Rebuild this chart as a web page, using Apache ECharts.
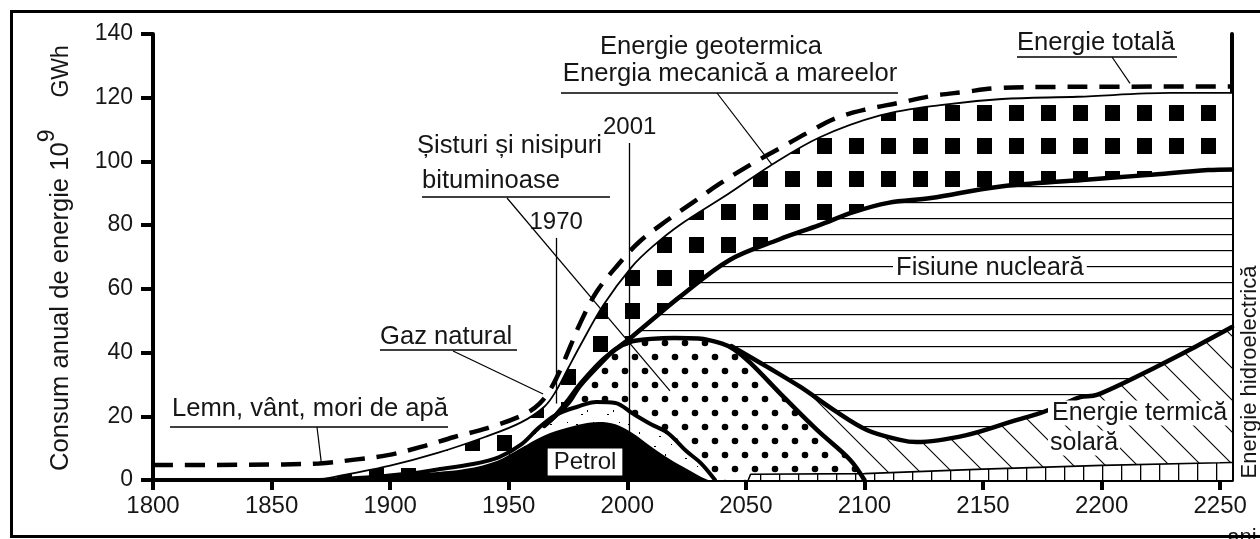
<!DOCTYPE html>
<html>
<head>
<meta charset="utf-8">
<script src="https://cdn.jsdelivr.net/npm/echarts@6/dist/echarts.min.js"></script>
<style>
  html, body { margin: 0; padding: 0; background: #fff; }
  #chart { width: 1260px; height: 539px; }
</style>
</head>
<body>
<div id="chart"></div>
<script>
// ---- axis ticks ----
const yearTicks = [1800, 1850, 1900, 1950, 2000, 2050, 2100, 2150, 2200, 2250];
const valueTicks = [0, 20, 40, 60, 80, 100, 120, 140];

// ---- curves: [year, 10^9 GWh] ----
const totalEnergy = [[1800,4.7],[1840,4.8],[1870,5.2],[1885,6.4],[1899,7.8],[1913,10.4],[1927,13.5],[1941,16.3],[1956,20.4],[1963,24],[1968,29],[1972,35],[1976,42],[1980,49],[1987,59],[1996,67.5],[2005,74.7],[2017,81.6],[2028,87.3],[2039,93],[2052,99],[2064,104],[2076,109],[2088,113.6],[2101,116.4],[2114,118.3],[2128,120.5],[2142,121.8],[2156,123],[2180,123.4],[2255,123.5]];
const geoTidalTop = [[1870,0],[1880,1.5],[1900,4.5],[1920,8.5],[1940,13.5],[1955,18],[1965,23],[1970,28],[1975,35],[1980,42],[1990,55],[2002,67],[2011,73.5],[2022,80],[2043,90],[2060,98.5],[2081,107.5],[2107,114.5],[2132,117.7],[2158,119.6],[2190,120.3],[2229,121.5],[2255,121.5]];
const nuclearTop = [[1965,17],[1970,20.5],[1975,25],[1980,30],[1990,38],[2002,45],[2010,50],[2022,57.4],[2043,69],[2064,75.5],[2081,80],[2095,84],[2110,87],[2128,88.5],[2156,92],[2192,94.2],[2219,95.7],[2245,97.3],[2255,97.5]];
const solarTop = [[2044,42],[2059,35.5],[2073,29.2],[2087,22],[2101,15.7],[2115,12.6],[2122,11.9],[2143,14.1],[2164,18.8],[2174,21],[2183,23.5],[2191,26],[2198,26.7],[2223,35.5],[2240,42],[2255,48]];
const shaleTop = [[1965,17],[1975,24],[1980,29.5],[1990,37.5],[1995,41],[2002,43.5],[2010,44.3],[2020,44.6],[2030,44.4],[2040,42.8],[2045,41],[2052,36.7],[2066,26],[2080,15.7],[2094,6.3],[2100,0]];
const gasTop = [[1870,0],[1890,0.8],[1910,2.2],[1920,3.3],[1935,5],[1946,7.2],[1955,11],[1963,16.6],[1970,20.5],[1979,23],[1987,24.5],[1995,24.2],[2002,21],[2010,17.5],[2017,14.8],[2025,9],[2031,5.3],[2037,0]];
const petrolTop = [[1860,0],[1900,1.5],[1920,2.5],[1932,3.5],[1945,6],[1955,10],[1965,14],[1975,16.5],[1988,18.2],[1995,17.5],[2002,14.8],[2010,10.5],[2017,7],[2025,3.5],[2031,1],[2034,0]];
const hydroTop = [[2051,0],[2052,1.8],[2100,2],[2150,3.4],[2200,4.6],[2250,5.4],[2255,5.5]];
const markYears = [1970, 2001];

const FONT = '"Liberation Sans", Arial, sans-serif';
const INK = '#161616';
const NOTE = 25.6;   // annotation font size

// ---- fill patterns ----
function tile(w, h, draw) {
  const c = document.createElement('canvas');
  c.width = w; c.height = h;
  const g = c.getContext('2d');
  g.fillStyle = '#fff'; g.fillRect(0, 0, w, h);
  g.fillStyle = '#000'; g.strokeStyle = '#000';
  draw(g);
  return { image: c, repeat: 'repeat' };
}
const squaresFill = tile(32, 33, g => { g.fillRect(17, 6, 15, 16); });
const linesFill = tile(16, 16, g => { g.fillRect(0, 10, 16, 1.2); });
const hatchFill = tile(32, 32, g => {
  g.lineWidth = 1.1;
  for (const k of [-32, 0, 32]) { g.beginPath(); g.moveTo(k - 1, -1); g.lineTo(k + 33, 33); g.stroke(); }
});
const dotsFill = tile(20, 28, g => {
  for (const [x, y] of [[5, 7], [15, 21]]) { g.beginPath(); g.arc(x, y, 3.3, 0, Math.PI * 2); g.fill(); }
});
const specksFill = tile(26, 22, g => {
  g.fillRect(4, 6, 2, 1); g.fillRect(15, 14, 1, 2); g.fillRect(21, 4, 1, 1); g.fillRect(9, 18, 2, 1);
});
const boxesFill = tile(19, 40, g => { g.fillRect(0, 0, 1.3, 40); });

const chart = echarts.init(document.getElementById('chart'), null, { renderer: 'canvas' });

function areaSeries(name, data, fill, extra) {
  return Object.assign({
    name, type: 'line', data, showSymbol: false, smooth: 0.35, silent: true, z: 2,
    lineStyle: { width: 0, opacity: 0 },
    areaStyle: { color: fill, opacity: 1 }
  }, extra || {});
}
function lineSeries(name, data, width, extra) {
  return Object.assign({
    name, type: 'line', data, showSymbol: false, smooth: 0.35, silent: true, z: 3,
    lineStyle: { color: '#000', width: width, cap: 'round', join: 'round' }
  }, extra || {});
}

const option = {
  animation: false,
  backgroundColor: '#fff',
  grid: { left: 153, right: 28, top: 34, bottom: 59, outerBoundsMode: 'none' },
  xAxis: {
    type: 'value', min: 1800, max: 2255,
    axisLine: { show: true, onZero: false, lineStyle: { color: '#000', width: 4 } },
    axisTick: { show: true, length: 10, customValues: yearTicks, lineStyle: { color: '#000', width: 4 } },
    axisLabel: { customValues: yearTicks, formatter: v => String(v), fontSize: 24, fontFamily: FONT, color: INK, margin: 14 },
    splitLine: { show: false }
  },
  yAxis: [{
    type: 'value', min: 0, max: 140, interval: 20, position: 'left',
    axisLine: { show: true, onZero: false, lineStyle: { color: '#000', width: 4 } },
    axisTick: { show: true, length: 12, customValues: valueTicks, lineStyle: { color: '#000', width: 4 } },
    axisLabel: { customValues: valueTicks, formatter: v => String(v), fontSize: 23, fontFamily: FONT, color: INK, margin: 20 },
    splitLine: { show: false }
  }, {
    type: 'value', min: 0, max: 140, position: 'right',
    axisLine: { show: true, onZero: false, lineStyle: { color: '#000', width: 4 } },
    axisTick: { show: false }, axisLabel: { show: false }, splitLine: { show: false }
  }],
  series: [
    areaSeries('Cărbune', geoTidalTop, squaresFill),
    areaSeries('Fisiune nucleară', nuclearTop, linesFill),
    areaSeries('Energie termică solară', solarTop, hatchFill),
    areaSeries('Șisturi și nisipuri bituminoase', shaleTop, dotsFill),
    areaSeries('Gaz natural', gasTop, specksFill),
    areaSeries('Petrol', petrolTop, '#000'),
    areaSeries('Energie hidroelectrică', hydroTop, boxesFill, { smooth: false, z: 3, lineStyle: { color: '#000', width: 1.6 } }),
    lineSeries('Energie geotermica', geoTidalTop, 1.8),
    lineSeries('Fisiune nucleară (limită)', nuclearTop, 4.5),
    lineSeries('Energie termică solară (limită)', solarTop, 4.5),
    lineSeries('Șisturi (limită)', shaleTop, 4.5),
    lineSeries('Gaz natural (limită)', gasTop, 4),
    lineSeries('Energie totală', totalEnergy, 4.5, {
      lineStyle: { color: '#000', width: 4.5, type: [20, 12] },
      markLine: {
        silent: true, symbol: 'none', animation: false,
        lineStyle: { color: '#000', width: 1.3, type: 'solid' },
        label: { show: true, position: 'end', formatter: '{b}', fontSize: 24, fontFamily: FONT, color: INK, distance: 4 },
        data: [
          [{ coord: [markYears[0], 24], name: String(markYears[0]) }, { coord: [markYears[0], 76] }],
          [{ coord: [markYears[1], 0], name: String(markYears[1]) }, { coord: [markYears[1], 105.8] }]
        ]
      }
    })
  ]
};
chart.setOption(option);

// ---- annotations ----
const P = (x, y) => chart.convertToPixel({ xAxisIndex: 0, yAxisIndex: 0 }, [x, y]);
function txt(text, x, y, align, vAlign, opts) {
  return Object.assign({
    type: 'text', x, y, z: 20, silent: true,
    style: Object.assign({ text, fontSize: NOTE, fontFamily: FONT, fill: INK, align: align, verticalAlign: vAlign }, (opts && opts.style) || {})
  }, opts && opts.el || {});
}
function seg(x1, y1, x2, y2, w) {
  return { type: 'line', z: 19, silent: true, shape: { x1, y1, x2, y2 }, style: { stroke: '#000', lineWidth: w || 1.2 } };
}
function leader(x1, y1, px, py) {
  const end = P(px, py);
  return seg(x1, y1, end[0], end[1], 1.2);
}

const graphics = [
  // Geothermal / tidal
  txt('Energie geotermica', 711, 47, 'center', 'middle'),
  txt('Energia mecanică a mareelor', 730, 74, 'center', 'middle'),
  seg(561, 93, 898, 93, 1.5),
  leader(717, 93, 2061, 99),
  // Total
  txt('Energie totală', 1096, 43, 'center', 'middle'),
  seg(1017, 57, 1177, 57, 1.5),
  leader(1112, 57, 2212, 124.5),
  // Shale
  txt('Șisturi și nisipuri', 417, 146, 'left', 'middle'),
  txt('bituminoase', 422, 181, 'left', 'middle'),
  seg(422, 197, 610, 197, 1.5),
  leader(507, 198, 2018, 28),
  // Natural gas
  txt('Gaz natural', 380, 337, 'left', 'middle'),
  seg(380, 350, 517, 350, 1.5),
  leader(453, 351, 1964.5, 27),
  // Wood, wind, water mills
  txt('Lemn, vânt, mori de apă', 172, 409, 'left', 'middle'),
  seg(170, 427, 448, 427, 1.5),
  leader(317, 427, 1871, 5.3),
  // Region labels
  txt('Fisiune nucleară', 893, 281, 'left', 'bottom', { style: { backgroundColor: '#fff', padding: [1, 3, 0, 3] } }),
  txt('Petrol', 585, 462, 'center', 'middle', { style: { fontSize: 24, backgroundColor: '#fff', padding: [2, 6, 1, 6] } }),
  txt('Energie termică', 1048, 413, 'left', 'middle', { style: { fontSize: 25, backgroundColor: '#fff', padding: [0, 0, 0, 4] } }),
  txt('solară', 1048, 443, 'left', 'middle', { style: { fontSize: 25, backgroundColor: '#fff', padding: [0, 2, 0, 2] } }),
  // Right axis name
  txt('Energie hidroelectrică', 1250, 372, 'center', 'middle', { el: { rotation: Math.PI / 2 }, style: { fontSize: 22 } }),
  // x unit
  txt('ani', 1242, 538, 'center', 'middle', { style: { fontSize: 22 } }),
  // y axis name with superscript exponent
  {
    type: 'text', x: 74, y: 471, rotation: Math.PI / 2, z: 20, silent: true,
    style: {
      text: '{a|Consum anual de energie 10}{s|9}{g|GWh}',
      align: 'left', verticalAlign: 'bottom',
      rich: {
        a: { fontSize: 25.6, fontFamily: FONT, fill: INK, lineHeight: 38, verticalAlign: 'bottom' },
        s: { fontSize: 23, fontFamily: FONT, fill: INK, lineHeight: 23, verticalAlign: 'top' },
        g: { fontSize: 23, fontFamily: FONT, fill: INK, lineHeight: 38, verticalAlign: 'bottom', padding: [0, 0, 1, 32] }
      }
    }
  },
  // frame
  { type: 'rect', z: 30, silent: true, shape: { x: 11.5, y: 11.5, width: 1252, height: 525 }, style: { fill: 'none', stroke: '#000', lineWidth: 3 } }
];
chart.setOption({ graphic: graphics });
</script>
</body>
</html>
